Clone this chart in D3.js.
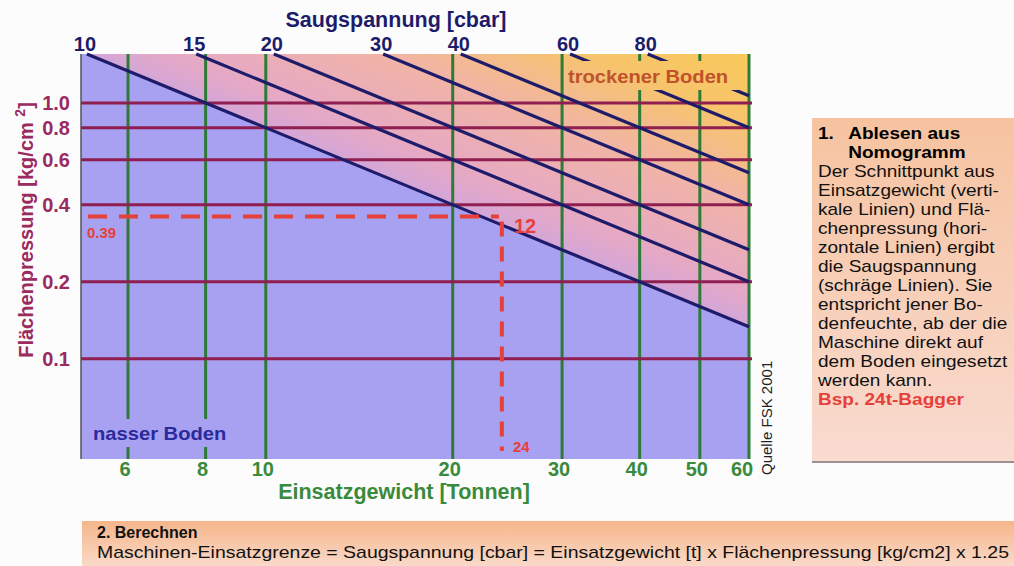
<!DOCTYPE html>
<html>
<head>
<meta charset="utf-8">
<script src="https://cdn.jsdelivr.net/npm/d3@7"></script>
<style>
body { margin: 0; background: #fcfcfc; font-family: Arial, "Liberation Sans", sans-serif; }
svg { display: block; }
</style>
</head>
<body>
<svg id="chart" width="1014" height="566"></svg>
<script>
// values
const weightTicks = [6, 8, 10, 20, 30, 40, 50, 60];      // Einsatzgewicht [t]
const pressureTicks = [0.1, 0.2, 0.4, 0.6, 0.8, 1.0];    // Flächenpressung [kg/cm2]
const pressureLabels = ["0.1", "0.2", "0.4", "0.6", "0.8", "1.0"];
const suctionLines = [10, 15, 20, 30, 40, 60, 80];       // Saugspannung [cbar]
const factor = 1.25;
const weightRange = [5.04, 60];
const pressureRange = [0.0406, 1.553];

// example: 24t excavator
const exampleWeight = 24;
const examplePressure = 0.36;   // where the dashed line sits in the picture
const examplePressureLabel = "0.39";
const exampleSuction = 12;

const infoLines = [
    "Der Schnittpunkt aus",
    "Einsatzgewicht (verti-",
    "kale Linien) und Flä-",
    "chenpressung (hori-",
    "zontale Linien) ergibt",
    "die Saugspannung",
    "(schräge Linien). Sie",
    "entspricht jener Bo-",
    "denfeuchte, ab der die",
    "Maschine direkt auf",
    "dem Boden eingesetzt",
    "werden kann."
];

const navy = "#1e1c6a", maroon = "#8e1f50", green = "#2e7b37", red = "#e6403a";
const lavender = "#a8a0f1";

const svg = d3.select("#chart");
const plot = { left: 81, right: 749, top: 54, bottom: 459 };

const x = d3.scaleLog().domain(weightRange).range([plot.left, plot.right]);
const y = d3.scaleLog().domain(pressureRange).range([plot.bottom, plot.top]);

const pTop = pressureRange[1], wMax = weightRange[1];
const startW = s => Math.max(weightRange[0], s / (factor * pTop));
const pAt = (s, w) => s / (factor * w);

const line = d3.line().x(d => x(d[0])).y(d => y(d[1]));

// gradient for the "dry" side, running across the diagonals
const a = [x(startW(suctionLines[0])), y(pTop)];
const b = [x(wMax), y(pAt(suctionLines[0], wMax))];
const len = Math.hypot(b[0] - a[0], b[1] - a[1]);
const nx = (b[1] - a[1]) / len, ny = -(b[0] - a[0]) / len;
const maxDist = (plot.right - a[0]) * nx + (plot.top - a[1]) * ny;

const defs = svg.append("defs");
const dry = defs.append("linearGradient")
    .attr("id", "dry")
    .attr("gradientUnits", "userSpaceOnUse")
    .attr("x1", a[0]).attr("y1", a[1])
    .attr("x2", a[0] + nx * maxDist).attr("y2", a[1] + ny * maxDist);
[[0, "#d3a6d8"], [0.12, "#e5a8c6"], [0.45, "#f1b4a6"], [0.75, "#f7c46c"], [1, "#f9c95a"]]
    .forEach(s => dry.append("stop").attr("offset", s[0]).attr("stop-color", s[1]));

const infoBg = defs.append("linearGradient").attr("id", "infoBg")
    .attr("x1", 0).attr("y1", 0).attr("x2", 0).attr("y2", 1);
infoBg.append("stop").attr("offset", 0).attr("stop-color", "#f6c3a0");
infoBg.append("stop").attr("offset", 1).attr("stop-color", "#f9dbd0");

const calcBg = defs.append("linearGradient").attr("id", "calcBg")
    .attr("x1", 0).attr("y1", 0).attr("x2", 0).attr("y2", 1);
calcBg.append("stop").attr("offset", 0).attr("stop-color", "#f5b68a");
calcBg.append("stop").attr("offset", 1).attr("stop-color", "#fad9c8");

// plot background
svg.append("rect")
    .attr("x", plot.left).attr("y", plot.top)
    .attr("width", plot.right - plot.left).attr("height", plot.bottom - plot.top)
    .attr("fill", lavender);

svg.append("path")
    .attr("d", d3.line()([a, b, [x(wMax), y(pTop)]]) + "Z")
    .attr("fill", "url(#dry)");

// grid: weight (vertical), pressure (horizontal)
svg.selectAll(".vline")
    .data(weightTicks)
    .enter()
    .append("line")
    .attr("x1", d => x(d)).attr("x2", d => x(d))
    .attr("y1", plot.top).attr("y2", plot.bottom)
    .attr("stroke", green)
    .attr("stroke-width", 3);

svg.selectAll(".hline")
    .data(pressureTicks)
    .enter()
    .append("line")
    .attr("x1", plot.left).attr("x2", plot.right + 3)
    .attr("y1", d => y(d)).attr("y2", d => y(d))
    .attr("stroke", maroon)
    .attr("stroke-width", 3);

// suction lines
svg.selectAll(".diag")
    .data(suctionLines)
    .enter()
    .append("path")
    .attr("d", s => line([[startW(s), pTop], [wMax, pAt(s, wMax)]]))
    .attr("stroke", navy)
    .attr("stroke-width", 3.2)
    .attr("fill", "none");

// left border
svg.append("line")
    .attr("x1", plot.left).attr("x2", plot.left)
    .attr("y1", plot.top).attr("y2", plot.bottom)
    .attr("stroke", "#555")
    .attr("stroke-width", 1.5);

// region labels with boxes that cut the lines
svg.append("rect")
    .attr("x", 565).attr("y", 61).attr("width", 177).attr("height", 29)
    .attr("fill", "url(#dry)");
svg.append("text")
    .attr("transform", "translate(568,83) scale(1.12,1)")
    .attr("font-size", 18).attr("font-weight", "bold")
    .attr("fill", "#c0522c")
    .text("trockener Boden");

svg.append("rect")
    .attr("x", 86).attr("y", 419).attr("width", 148).attr("height", 28)
    .attr("fill", lavender);
svg.append("text")
    .attr("transform", "translate(93,440) scale(1.12,1)")
    .attr("font-size", 18).attr("font-weight", "bold")
    .attr("fill", "#2b2a9c")
    .text("nasser Boden");

// example: dashed reading lines
const ex = x(exampleWeight), ey = y(examplePressure);
svg.append("line")
    .attr("x1", plot.left + 7).attr("x2", ex - 3)
    .attr("y1", ey).attr("y2", ey)
    .attr("stroke", red).attr("stroke-width", 4)
    .attr("stroke-dasharray", "19,12");
svg.append("line")
    .attr("x1", ex).attr("x2", ex)
    .attr("y1", ey + 5).attr("y2", plot.bottom - 8)
    .attr("stroke", red).attr("stroke-width", 4)
    .attr("stroke-dasharray", "15,10");
svg.append("text")
    .attr("x", ex + 12).attr("y", ey + 17)
    .attr("font-size", 20).attr("font-weight", "bold").attr("fill", red)
    .text(exampleSuction);
svg.append("text")
    .attr("x", ex + 11).attr("y", plot.bottom - 7)
    .attr("font-size", 15).attr("font-weight", "bold").attr("fill", red)
    .text(exampleWeight);
svg.append("text")
    .attr("x", plot.left + 6).attr("y", ey + 22)
    .attr("font-size", 15).attr("font-weight", "bold").attr("fill", red)
    .text(examplePressureLabel);

// top axis: suction
svg.selectAll(".stick")
    .data(suctionLines)
    .enter()
    .append("text")
    .attr("x", s => x(startW(s)) - 2)
    .attr("y", 51)
    .attr("text-anchor", "middle")
    .attr("font-size", 20).attr("font-weight", "bold")
    .attr("fill", navy)
    .text(s => s);
svg.append("text")
    .attr("x", 396).attr("y", 27)
    .attr("text-anchor", "middle")
    .attr("font-size", 21.5).attr("font-weight", "bold")
    .attr("fill", navy)
    .text("Saugspannung [cbar]");

// bottom axis: weight
svg.selectAll(".wtick")
    .data(weightTicks)
    .enter()
    .append("text")
    .attr("x", (d, i) => x(d) - (i === weightTicks.length - 1 ? 7 : 3))
    .attr("y", 476)
    .attr("text-anchor", "middle")
    .attr("font-size", 20).attr("font-weight", "bold")
    .attr("fill", "#3a8a3c")
    .text(d => d);
svg.append("text")
    .attr("x", 404).attr("y", 499)
    .attr("text-anchor", "middle")
    .attr("font-size", 21.5).attr("font-weight", "bold")
    .attr("fill", "#3a8a3c")
    .text("Einsatzgewicht [Tonnen]");

// left axis: pressure
svg.selectAll(".ptick")
    .data(pressureTicks)
    .enter()
    .append("text")
    .attr("x", 70)
    .attr("y", d => y(d))
    .attr("dy", "0.36em")
    .attr("text-anchor", "end")
    .attr("font-size", 20).attr("font-weight", "bold")
    .attr("fill", "#9a2a60")
    .text((d, i) => pressureLabels[i]);
const yTitle = svg.append("text")
    .attr("transform", "translate(33,230) rotate(-90)")
    .attr("text-anchor", "middle")
    .attr("font-size", 20).attr("font-weight", "bold")
    .attr("fill", "#9a2a60");
yTitle.append("tspan").text("Flächenpressung [kg/cm ");
yTitle.append("tspan").attr("baseline-shift", "super").attr("font-size", 14).text("2");
yTitle.append("tspan").text("]");

// source
svg.append("text")
    .attr("transform", "translate(772,475) rotate(-90)")
    .attr("font-size", 15)
    .attr("fill", "#222")
    .text("Quelle FSK 2001");

// info box on the right
svg.append("rect")
    .attr("x", 812).attr("y", 118).attr("width", 202).attr("height", 344)
    .attr("fill", "url(#infoBg)");
svg.append("rect")
    .attr("x", 812).attr("y", 461).attr("width", 202).attr("height", 2)
    .attr("fill", "#9a9090");

const info = svg.append("g")
    .attr("transform", "translate(818,0) scale(1.12,1)")
    .attr("font-size", 17);
const lh = 19, y0 = 139;
info.append("text").attr("x", 0).attr("y", y0).attr("font-weight", "bold").text("1.");
info.append("text").attr("x", 27).attr("y", y0).attr("font-weight", "bold").text("Ablesen aus");
info.append("text").attr("x", 27).attr("y", y0 + lh).attr("font-weight", "bold").text("Nomogramm");
info.selectAll(".il")
    .data(infoLines)
    .enter()
    .append("text")
    .attr("x", 0)
    .attr("y", (d, i) => y0 + (i + 2) * lh)
    .attr("fill", "#111")
    .text(d => d);
info.append("text")
    .attr("x", 0).attr("y", y0 + (infoLines.length + 2) * lh)
    .attr("font-weight", "bold").attr("fill", red)
    .text("Bsp. 24t-Bagger");

// calculation box at the bottom
svg.append("rect")
    .attr("x", 82).attr("y", 521).attr("width", 932).attr("height", 45)
    .attr("fill", "url(#calcBg)");
svg.append("text")
    .attr("x", 97).attr("y", 538)
    .attr("font-size", 16).attr("font-weight", "bold")
    .attr("fill", "#111")
    .text("2.  Berechnen");
svg.append("text")
    .attr("x", 97).attr("y", 558)
    .attr("font-size", 17)
    .attr("textLength", 912)
    .attr("lengthAdjust", "spacingAndGlyphs")
    .attr("fill", "#111")
    .text("Maschinen-Einsatzgrenze = Saugspannung [cbar] = Einsatzgewicht [t] x Flächenpressung [kg/cm2] x " + factor);
</script>
</body>
</html>
